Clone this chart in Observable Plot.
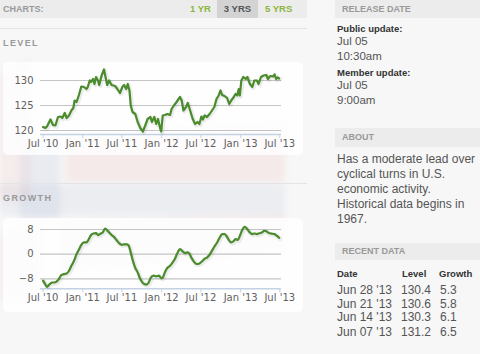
<!DOCTYPE html>
<html>
<head>
<meta charset="utf-8">
<script src="https://cdn.jsdelivr.net/npm/d3@7"></script>
<script src="https://cdn.jsdelivr.net/npm/@observablehq/plot@0.6"></script>
<style>
  html, body { margin: 0; padding: 0; }
  body { width: 480px; height: 354px; overflow: hidden; position: relative; background: #f7f7f7;
         font-family: "Liberation Sans", Arial, Helvetica, sans-serif; }
  .abs { position: absolute; }
  .bar { background: #ececec; height: 18px; line-height: 18px; font-size: 9px; font-weight: bold; color: #999; }
  .sec { font-size: 9px; font-weight: bold; color: #999; letter-spacing: 1.4px; }
  .panel { background: rgba(255,255,255,0.82); border-radius: 5px; }
  .btn { font-size: 9.5px; font-weight: bold; color: #8db53c; line-height: 18px; top: 0; }
  .rtxt { font-size: 11.5px; color: #555; left: 337px; }
  .rbold { font-size: 9.5px; font-weight: bold; color: #333; left: 337px; }
  .row { font-size: 12px; color: #555; }
</style>
</head>
<body>
<svg class="abs" style="left:0;top:0;filter:blur(3px)" width="480" height="354">
  <polygon points="0,75 30,60 30,200 0,200" fill="#d84040" opacity="0.06"/>
  <polygon points="20,140 60,140 60,220 20,220" fill="#3a5a9a" opacity="0.07"/>
  <polygon points="0,185 285,185 285,215 0,215" fill="#3a5a9a" opacity="0.06"/>
  <polygon points="65,135 285,125 285,182 65,182" fill="#e04848" opacity="0.07"/>
  <polygon points="60,220 285,215 285,250 60,270" fill="#e04848" opacity="0.06"/>
  <polygon points="0,235 40,225 40,300 0,300" fill="#d84040" opacity="0.05"/>
</svg>

<div class="abs bar" style="left:0;top:0;width:307px;"><span style="padding-left:3px">CHARTS:</span></div>
<div class="abs btn" style="left:190px;">1 YR</div>
<div class="abs btn" style="left:217px;width:41px;height:18px;background:#d3d3d3;color:#555;text-align:center;">3 YRS</div>
<div class="abs btn" style="left:265px;">5 YRS</div>
<div class="abs" style="left:0;top:28px;width:307px;height:1px;background:#e4e4e4"></div>
<div class="abs sec" style="left:3px;top:38px;">LEVEL</div>
<div class="abs panel" style="left:3px;top:62px;width:300px;height:93px;"></div>
<div id="level" class="abs" style="left:3px;top:62px;"></div>
<div class="abs" style="left:0;top:183px;width:307px;height:1px;background:#e4e4e4"></div>
<div class="abs sec" style="left:3px;top:193px;">GROWTH</div>
<div class="abs panel" style="left:3px;top:218px;width:300px;height:94px;"></div>
<div id="growth" class="abs" style="left:3px;top:218px;"></div>

<div class="abs bar" style="left:335px;top:0;width:145px;"><span style="padding-left:7px">RELEASE DATE</span></div>
<div class="abs rbold" style="top:23px;">Public update:</div>
<div class="abs rtxt" style="top:35px;">Jul 05</div>
<div class="abs rtxt" style="top:50px;">10:30am</div>
<div class="abs rbold" style="top:67px;">Member update:</div>
<div class="abs rtxt" style="top:79px;">Jul 05</div>
<div class="abs rtxt" style="top:94px;">9:00am</div>

<div class="abs bar" style="left:335px;top:128px;width:145px;height:19px;line-height:19px;"><span style="padding-left:7px">ABOUT</span></div>
<div class="abs rtxt" style="top:152px;width:143px;line-height:15px;font-size:12px;">Has a moderate lead over cyclical turns in U.S. economic activity. Historical data begins in 1967.</div>

<div class="abs bar" style="left:335px;top:243px;width:145px;height:17px;line-height:17px;"><span style="padding-left:7px">RECENT DATA</span></div>
<div id="table"></div>

<script>
// ---- data ----
const xTickDates = ["2010-07-01","2011-01-01","2011-07-01","2012-01-01","2012-07-01","2013-01-01","2013-07-01"];
const xTickLabels = ["Jul '10","Jan '11","Jul '11","Jan '12","Jul '12","Jan '13","Jul '13"];

const levelTicks = [120, 125, 130];
const growthTicks = [-8, 0, 8];

const levelDates = [
"2010-07-01","2010-07-12","2010-07-19","2010-08-04","2010-08-16","2010-08-27","2010-09-08","2010-09-20","2010-09-28","2010-10-09","2010-10-18","2010-10-29","2010-11-09","2010-11-18","2010-11-24","2010-12-03","2010-12-14","2010-12-25",
"2011-01-06","2011-01-18","2011-01-24","2011-02-02","2011-02-08","2011-02-17","2011-02-24","2011-03-03","2011-03-12","2011-03-18","2011-03-29","2011-04-09","2011-04-18","2011-04-24","2011-05-03","2011-05-14","2011-05-30","2011-06-10","2011-06-22",
"2011-07-03","2011-07-11","2011-07-21","2011-07-28","2011-08-05","2011-08-11","2011-08-19","2011-09-01","2011-09-12","2011-09-24","2011-10-06","2011-10-17","2011-10-28","2011-11-10","2011-11-17","2011-11-28","2011-12-07","2011-12-15","2011-12-26","2011-12-30",
"2012-01-06","2012-01-16","2012-01-27","2012-02-09","2012-02-16","2012-02-27","2012-03-10","2012-03-26","2012-04-03","2012-04-11","2012-04-23","2012-05-01","2012-05-12","2012-05-24","2012-06-04","2012-06-15","2012-06-24",
"2012-07-03","2012-07-10","2012-07-18","2012-07-29","2012-08-10","2012-08-21","2012-09-01","2012-09-11","2012-09-21","2012-09-29","2012-10-07","2012-10-18","2012-10-30","2012-11-09","2012-11-18","2012-11-30","2012-12-08","2012-12-16","2012-12-23","2012-12-28",
"2013-01-04","2013-01-13","2013-01-24","2013-02-01","2013-02-13","2013-02-24","2013-03-05","2013-03-17","2013-03-25","2013-04-05","2013-04-17","2013-04-30","2013-05-07","2013-05-18","2013-05-31","2013-06-07","2013-06-14","2013-06-21","2013-06-28"];
const levelValues = [
120.7,120.5,120.8,122.2,121.1,121.0,122.7,122.8,122.5,123.5,122.5,123.0,124.0,124.5,126.0,125.7,127.1,128.8,
128.7,128.3,128.7,130.0,129.7,130.3,129.3,130.7,130.0,129.1,131.0,132.2,130.3,129.1,130.0,129.1,128.9,128.3,127.5,
128.7,129.1,128.3,129.3,128.0,125.0,123.7,123.3,121.7,120.5,119.8,121.0,122.3,122.7,121.7,122.7,121.3,122.3,120.3,119.8,
123.0,123.1,123.3,123.1,124.3,125.0,125.7,126.7,126.0,124.0,124.7,125.5,124.0,122.3,121.3,121.7,121.3,
122.8,122.2,123.0,122.7,123.3,124.0,124.7,126.3,127.0,128.0,127.1,126.9,126.5,125.3,126.0,126.7,127.3,127.0,128.3,127.0,
130.0,130.7,130.3,130.7,129.3,128.7,130.0,130.0,129.3,130.7,131.0,131.1,130.3,130.9,130.8,131.2,130.3,130.6,130.4];

const growthDates = [
"2010-07-01","2010-07-12","2010-07-19","2010-08-01","2010-08-12","2010-08-23","2010-09-01","2010-09-12","2010-09-23","2010-10-05","2010-10-18","2010-10-29","2010-11-09","2010-11-21","2010-12-03","2010-12-15","2010-12-25",
"2011-01-06","2011-01-18","2011-01-29","2011-02-08","2011-02-19","2011-03-03","2011-03-13","2011-03-25","2011-04-03","2011-04-14","2011-04-21","2011-05-03","2011-05-14","2011-05-25","2011-06-07","2011-06-19",
"2011-07-01","2011-07-11","2011-07-24","2011-08-02","2011-08-11","2011-08-21","2011-09-01","2011-09-12","2011-09-21","2011-10-02","2011-10-12","2011-10-22","2011-11-02","2011-11-12","2011-11-25","2011-12-07","2011-12-20","2011-12-30",
"2012-01-06","2012-01-16","2012-01-27","2012-02-09","2012-02-21","2012-03-02","2012-03-13","2012-03-26","2012-04-07","2012-04-18","2012-04-29","2012-05-08","2012-05-19","2012-05-30","2012-06-11","2012-06-24",
"2012-07-05","2012-07-16","2012-07-29","2012-08-10","2012-08-21","2012-09-01","2012-09-14","2012-09-26","2012-10-07","2012-10-18","2012-10-27","2012-11-07","2012-11-18","2012-11-30","2012-12-08","2012-12-19","2012-12-28",
"2013-01-08","2013-01-19","2013-02-01","2013-02-13","2013-02-24","2013-03-05","2013-03-17","2013-03-29","2013-04-09","2013-04-20","2013-04-30","2013-05-10","2013-05-21","2013-06-07","2013-06-14","2013-06-21","2013-06-28"];
const growthValues = [
-8.6,-9.9,-10.6,-9.7,-9.2,-9.2,-8.9,-8.1,-6.8,-6.5,-6.3,-5.4,-3.8,-2.2,0.0,1.6,3.0,
3.8,3.8,4.9,6.2,6.7,6.8,6.2,6.7,7.0,8.3,7.9,7.0,6.2,5.6,4.5,3.5,
3.0,3.2,3.2,2.7,0.5,-2.2,-4.5,-5.9,-7.6,-9.0,-9.7,-9.9,-9.2,-7.6,-7.0,-7.2,-7.0,-7.8,
-7.6,-5.9,-4.5,-3.8,-2.7,-1.6,0.2,1.6,0.9,0.3,0.6,0.2,-1.3,-2.5,-3.2,-3.0,
-2.4,-1.6,-1.1,-0.2,1.1,2.4,3.8,5.4,6.5,6.5,5.9,4.6,3.8,4.3,4.9,4.6,5.9,
7.8,8.9,8.1,7.0,6.5,6.7,6.5,6.8,7.0,7.6,7.4,6.9,6.7,6.5,6.1,5.8,5.3];

const recentDates = ["Jun 28 '13", "Jun 21 '13", "Jun 14 '13", "Jun 07 '13"];
const recentLevels = ["130.4", "130.6", "130.3", "131.2"];
const recentGrowth = ["5.3", "5.8", "6.1", "6.5"];

// ---- build ----
const parse = d3.utcParse("%Y-%m-%d");
const levelData = levelDates.map((d, i) => ({date: parse(d), value: levelValues[i]}));
const growthData = growthDates.map((d, i) => ({date: parse(d), value: growthValues[i]}));
const tickDates = xTickDates.map(parse);
const tickLabel = new Map(tickDates.map((d, i) => [+d, xTickLabels[i]]));
const xDomain = [parse("2010-06-19"), parse("2013-07-09")];
const lineColor = "#4a8b2c";
const axisColor = "#c3d2e3";

function chart(data, yDomain, yTicks, height, marginBottom, curve) {
  return Plot.plot({
    width: 300, height, marginLeft: 37, marginRight: 22, marginTop: 0, marginBottom,
    style: {background: "transparent", fontFamily: "'DejaVu Sans', Verdana, sans-serif", fontSize: "10px", color: "#606060", overflow: "visible"},
    x: {type: "utc", domain: xDomain},
    y: {domain: yDomain},
    marks: [
      Plot.gridY(yTicks, {stroke: "#c4c4c4", strokeOpacity: 1, strokeWidth: 1.2}),
      Plot.ruleY([yDomain[0]], {stroke: axisColor, strokeWidth: 1.5}),
      Plot.axisX({ticks: tickDates, tickFormat: d => tickLabel.get(+d), tickSize: 4, tickPadding: 1, stroke: axisColor, fill: "#606060", label: null}),
      Plot.axisY({ticks: yTicks, tickSize: 0, tickPadding: 7, fill: "#606060", label: null}),
      Plot.line(data, {x: "date", y: "value", stroke: "#000", strokeOpacity: 0.07, strokeWidth: 4.5, dx: 1, dy: 1, curve}),
      Plot.line(data, {x: "date", y: "value", stroke: lineColor, strokeWidth: 2.2, curve})
    ]
  });
}

document.getElementById("level").appendChild(chart(levelData, [119.2, 133.6], levelTicks, 93, 21, "linear"));
document.getElementById("growth").appendChild(chart(growthData, [-11.25, 11.57], growthTicks, 94, 23.7, "monotone-x"));

// table
const tbl = document.getElementById("table");
function addText(txt, left, top, cls) {
  const el = document.createElement("div");
  el.className = "abs " + cls;
  el.style.left = left + "px"; el.style.top = top + "px";
  el.textContent = txt;
  tbl.appendChild(el);
}
addText("Date", 337, 268, "rbold");
addText("Level", 402, 268, "rbold");
addText("Growth", 439, 268, "rbold");
const rowTops = [283, 297, 310, 325];
recentDates.forEach((d, i) => {
  addText(d, 337, rowTops[i], "row");
  addText(recentLevels[i], 401, rowTops[i], "row");
  addText(recentGrowth[i], 440, rowTops[i], "row");
});
</script>
</body>
</html>
